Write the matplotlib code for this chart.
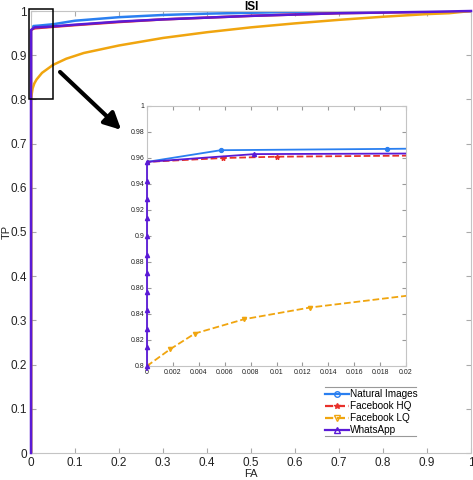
import matplotlib
matplotlib.use("Agg")
import matplotlib.pyplot as plt
from matplotlib.lines import Line2D
from matplotlib.patches import Rectangle

plt.rcParams['font.family'] = ['Liberation Sans', 'DejaVu Sans']

# ---- data ----
series_names = ["Natural Images", "Facebook HQ", "Facebook LQ", "WhatsApp"]

nat_fa = [0, 0, 0.0057, 0.0185, 0.05, 0.1, 0.2, 0.3, 0.4, 0.5, 0.6, 0.8, 1.0]
nat_tp = [0, 0.957, 0.966, 0.967, 0.970, 0.978, 0.986, 0.991, 0.994, 0.996, 0.998, 0.999, 1.0]

fbhq_fa = [0, 0, 0.0059, 0.010, 0.035, 0.1, 0.2, 0.3, 0.5, 0.7, 0.9, 1.0]
fbhq_tp = [0, 0.957, 0.960, 0.961, 0.963, 0.968, 0.975, 0.981, 0.989, 0.995, 0.998, 1.0]

fblq_fa = [0, 0, 0.0018, 0.0037, 0.0075, 0.0126, 0.025, 0.05, 0.08, 0.12, 0.2, 0.3,
           0.4, 0.5, 0.6, 0.7, 0.8, 0.9, 0.95, 1.0]
fblq_tp = [0, 0.80, 0.813, 0.825, 0.836, 0.845, 0.860, 0.878, 0.892, 0.905, 0.922, 0.939,
           0.952, 0.963, 0.972, 0.980, 0.987, 0.993, 0.995, 1.0]

wa_fa = [0, 0, 0, 0, 0, 0, 0, 0, 0, 0, 0, 0, 0, 0.0083, 0.035, 0.1, 0.2, 0.3, 0.5, 0.7, 0.9, 1.0]
wa_tp = [0, 0.800, 0.8144, 0.8285, 0.8429, 0.8570, 0.8714, 0.8855, 0.900, 0.9141, 0.9282,
         0.9423, 0.957, 0.963, 0.964, 0.969, 0.976, 0.981, 0.989, 0.995, 0.998, 1.0]

main_ticks = [0, 0.1, 0.2, 0.3, 0.4, 0.5, 0.6, 0.7, 0.8, 0.9, 1]
main_ticklabels = ["0", "0.1", "0.2", "0.3", "0.4", "0.5", "0.6", "0.7", "0.8", "0.9", "1"]
inset_xticks = [0, 0.002, 0.004, 0.006, 0.008, 0.01, 0.012, 0.014, 0.016, 0.018, 0.02]
inset_xticklabels = ["0", "0.002", "0.004", "0.006", "0.008", "0.01", "0.012", "0.014", "0.016", "0.018", "0.02"]
inset_yticks = [0.8, 0.82, 0.84, 0.86, 0.88, 0.9, 0.92, 0.94, 0.96, 0.98, 1]
inset_yticklabels = ["0.8", "0.82", "0.84", "0.86", "0.88", "0.9", "0.92", "0.94", "0.96", "0.98", "1"]

c_nat = '#2a7ff0'
c_hq = '#e8302a'
c_lq = '#f0a50f'
c_wa = '#5a1ad6'
spine_c = '#c4c4c4'

fig = plt.figure(figsize=(4.73, 4.80), dpi=100)
ax = fig.add_axes([31/473, 1-453/480, 440/473, 442/480])

lw = 1.8
ax.plot(nat_fa, nat_tp, color=c_nat, lw=lw)
ax.plot(fbhq_fa, fbhq_tp, color=c_hq, lw=lw)
ax.plot(fblq_fa, fblq_tp, color=c_lq, lw=lw)
ax.plot(wa_fa, wa_tp, color=c_wa, lw=lw, clip_on=False, zorder=5)

ax.set_xlim(0, 1)
ax.set_ylim(0, 1)
ax.set_xticks(main_ticks)
ax.set_xticklabels(main_ticklabels)
ax.set_yticks(main_ticks)
ax.set_yticklabels(main_ticklabels)
ax.tick_params(direction='in', length=3.5, color='#aaaaaa', labelsize=8.5,
               labelcolor='#222222', top=True, right=True, pad=3)
for s in ax.spines.values():
    s.set_color(spine_c)
    s.set_linewidth(0.8)
ax.set_xlabel("FA", fontsize=8, labelpad=0, color='#222222')
ax.set_ylabel("TP", fontsize=8, labelpad=-1, color='#222222')
ax.set_title("ISI", fontsize=8.5, fontweight='bold', pad=1)

# zoom rectangle
ax.add_patch(Rectangle((-0.004, 0.8), 0.054, 0.205, fill=False, edgecolor='black',
                       lw=1.1, clip_on=False, zorder=6))
# arrow
ax.annotate("", xy=(0.205, 0.731), xytext=(0.066, 0.862),
            arrowprops=dict(arrowstyle='-|>,head_length=1.0,head_width=0.5',
                            color='black', lw=3, shrinkA=0, shrinkB=0))

# legend
handles = [
    Line2D([], [], color=c_nat, lw=1.6, ls='-', marker='o', mfc='none', ms=4),
    Line2D([], [], color=c_hq, lw=1.6, ls='--', marker='*', ms=4),
    Line2D([], [], color=c_lq, lw=1.6, ls='--', marker='v', mfc='none', ms=4),
    Line2D([], [], color=c_wa, lw=1.6, ls='-', marker='^', mfc='none', ms=4),
]
leg = ax.legend(handles, series_names, loc='upper left', bbox_to_anchor=(0.668, 0.144),
                frameon=False, fontsize=7.2, handlelength=2.4, handletextpad=0.15,
                labelspacing=0.2, borderaxespad=0, borderpad=0.0, markerscale=1)
fig.add_artist(Line2D([325/473, 416/473], [1-387/480, 1-387/480], color='#999999', lw=0.8))
fig.add_artist(Line2D([325/473, 416/473], [1-436/480, 1-436/480], color='#999999', lw=0.8))

# inset
axi = fig.add_axes([147/473, 1-366/480, 259/473, 260/480])
clip_rect = Rectangle((-0.03, -0.02), 1.03, 1.02, transform=axi.transAxes,
                      fill=False, visible=False)
axi.add_patch(clip_rect)
axi.plot(nat_fa, nat_tp, color=c_nat, lw=1.3, marker='o', ms=2.8)
axi.plot(fbhq_fa, fbhq_tp, color=c_hq, lw=1.3, ls='--', marker='*', ms=3.5)
axi.plot(fblq_fa, fblq_tp, color=c_lq, lw=1.3, ls='--', marker='v', ms=3)
wa_line, = axi.plot(wa_fa, wa_tp, color=c_wa, lw=1.3, marker='^', ms=3, zorder=5)
wa_line.set_clip_path(clip_rect)
axi.set_xlim(0, 0.02)
axi.set_ylim(0.8, 1)
axi.set_xticks(inset_xticks)
axi.set_xticklabels(inset_xticklabels)
axi.set_yticks(inset_yticks)
axi.set_yticklabels(inset_yticklabels)
axi.tick_params(direction='in', length=3, color='#999999', labelsize=5,
                labelcolor='#222222', top=True, right=True, pad=2)
for s in axi.spines.values():
    s.set_color(spine_c)
    s.set_linewidth(0.8)

fig.savefig("out.png", dpi=100)
